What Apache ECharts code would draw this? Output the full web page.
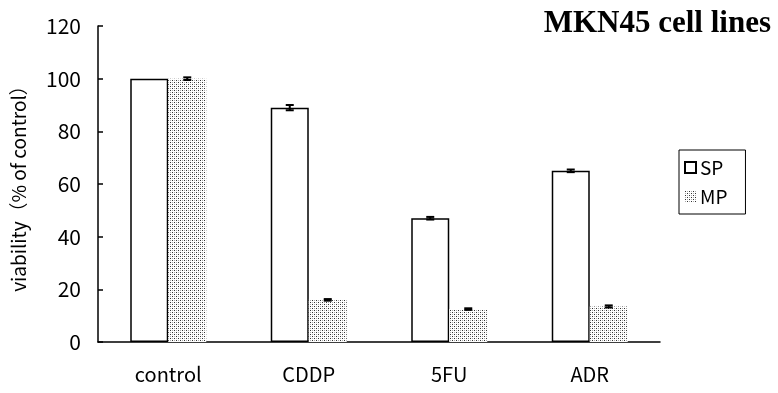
<!DOCTYPE html>
<html>
<head>
<meta charset="utf-8">
<script src="https://cdn.jsdelivr.net/npm/echarts@6/dist/echarts.min.js"></script>
<style>
html,body{margin:0;padding:0;background:#fff;}
#chart{width:778px;height:393px;}
</style>
</head>
<body>
<div id="chart"></div>
<script>
const categories = ['control', 'CDDP', '5FU', 'ADR'];
const spValues = [100, 89, 47, 65];
const spErrors = [0, 1, 0.5, 0.5];
const mpValues = [100, 16, 12.5, 13.5];
const mpErrors = [0.5, 0.3, 0.3, 0.4];
const yTicks = [0, 20, 40, 60, 80, 100, 120];

function makePattern() {
  const c = document.createElement('canvas');
  c.width = 4; c.height = 4;
  const ctx = c.getContext('2d');
  ctx.fillStyle = '#fff';
  ctx.fillRect(0, 0, 4, 4);
  ctx.fillStyle = '#333';
  ctx.fillRect(0, 0, 1, 1);
  ctx.fillRect(2, 2, 1, 1);
  ctx.fillStyle = '#aaa';
  ctx.fillRect(2, 0, 1, 1);
  ctx.fillRect(0, 2, 1, 1);
  return c;
}
const pattern = { image: makePattern(), repeat: 'repeat' };

const BAR_W = 38;
const font = '"Noto Sans CJK JP", "DejaVu Sans", sans-serif';

function errorSeries(name, values, errors, offset) {
  return {
    name: name,
    type: 'custom',
    z: 10,
    data: categories.map((c, i) => [i, values[i], errors[i]]),
    renderItem: function (params, api) {
      const i = api.value(0), v = api.value(1), e = api.value(2);
      if (!e) return;
      const hi = api.coord([i, v + e]);
      const lo = api.coord([i, v - e]);
      const x = hi[0] + offset;
      const cap = 4;
      const style = { stroke: '#000', lineWidth: 2 };
      return {
        type: 'group',
        children: [
          { type: 'line', shape: { x1: x, y1: hi[1], x2: x, y2: lo[1] }, style: style },
          { type: 'line', shape: { x1: x - cap, y1: hi[1], x2: x + cap, y2: hi[1] }, style: style },
          { type: 'line', shape: { x1: x - cap, y1: lo[1], x2: x + cap, y2: lo[1] }, style: style }
        ]
      };
    }
  };
}

const chart = echarts.init(document.getElementById('chart'));
chart.setOption({
  animation: false,
  backgroundColor: '#fff',
  title: {
    text: 'MKN45 cell lines',
    right: 2,
    top: 3,
    textStyle: { fontFamily: '"Liberation Serif", "Times New Roman", serif', fontWeight: 'bold', fontSize: 31, color: '#000' }
  },
  legend: {
    data: ['SP', 'MP'],
    orient: 'vertical',
    left: 679,
    top: 150,
    padding: [8, 18, 8, 5],
    itemGap: 10,
    itemWidth: 11,
    itemHeight: 11,
    borderColor: '#000',
    borderWidth: 1,
    icon: 'rect',
    textStyle: { fontFamily: font, fontSize: 19, color: '#000', padding: [0, 0, 0, -1] }
  },
  grid: { left: 98, right: 118, top: 26, bottom: 51, outerBoundsMode: 'none', containLabel: false },
  xAxis: {
    type: 'category',
    data: categories,
    axisLine: { lineStyle: { color: '#000', width: 1.5 } },
    axisTick: { inside: true, length: 5, lineStyle: { color: '#000', width: 1.5 } },
    axisLabel: { color: '#000', fontFamily: font, fontSize: 20, margin: 22 }
  },
  yAxis: {
    type: 'value',
    min: yTicks[0],
    max: yTicks[yTicks.length - 1],
    interval: 20,
    name: 'viability（% of control）',
    nameLocation: 'middle',
    nameGap: 70,
    nameTextStyle: { color: '#000', fontFamily: font, fontSize: 19 },
    axisLine: { show: true, lineStyle: { color: '#000', width: 1.5 } },
    axisTick: { show: true, inside: true, length: 5, lineStyle: { color: '#000', width: 1.5 } },
    axisLabel: { color: '#000', fontFamily: font, fontSize: 21, margin: 17 },
    splitLine: { show: false }
  },
  series: [
    {
      name: 'SP',
      type: 'bar',
      data: spValues,
      barWidth: BAR_W,
      barGap: '0%',
      itemStyle: { color: '#fff', borderColor: '#000', borderWidth: 1.5 }
    },
    {
      name: 'MP',
      type: 'bar',
      data: mpValues,
      barWidth: BAR_W,
      barGap: '0%',
      itemStyle: { color: pattern, borderWidth: 0 }
    },
    errorSeries('SP err', spValues, spErrors, -BAR_W / 2),
    errorSeries('MP err', mpValues, mpErrors, BAR_W / 2)
  ]
});
</script>
</body>
</html>
